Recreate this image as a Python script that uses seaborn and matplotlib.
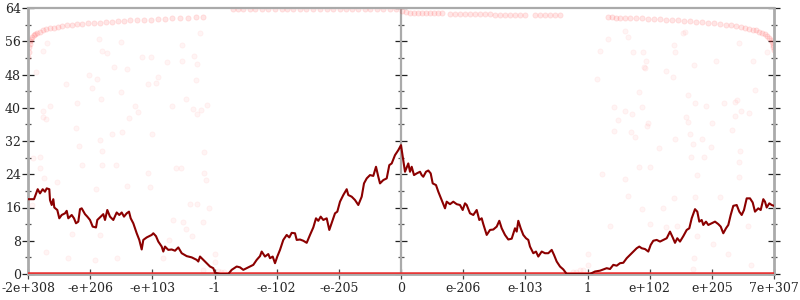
import numpy as np
import pandas as pd
import matplotlib
matplotlib.use("Agg")
import matplotlib.pyplot as plt
from matplotlib.ticker import MultipleLocator, NullFormatter
import seaborn as sns

# x is an ordinal "rank" axis (0 .. 746) over the float number line
tick_labels = ["-2e+308", "-e+206", "-e+103", "-1", "-e-102", "-e-205", "0",
               "e-206", "e-103", "1", "e+102", "e+205", "7e+307"]
x_span = 746

# average error line (rank, bits)
error_line = [
    (0, 18.0), (6, 18.0), (9.7, 20.4), (12, 19.4), (14.7, 20.4), (17, 19.8), (18.7, 20.6),
    (21.3, 20.4), (22, 17.8), (23.7, 16.6), (25.3, 18.0), (26.3, 16.0), (29.3, 15.4),
    (31.3, 13.4), (33.7, 14.2), (37, 14.6), (38.7, 15.2), (40.3, 13.4), (43.7, 14.2),
    (46, 13.4), (48, 12.2), (50.3, 12.6), (52, 15.6), (53.7, 15.8), (57, 14.4), (59.3, 13.8),
    (62, 13.0), (64.7, 11.4), (68, 11.2), (69.3, 13.0), (72.7, 13.8), (75.3, 14.4), (77, 13.0),
    (79.3, 15.4), (82, 13.8), (85.3, 13.0), (88.7, 14.8), (91.3, 14.2), (93.7, 14.8),
    (96, 13.8), (98.7, 14.6), (101, 15.0), (102.7, 13.4), (105.3, 12.2), (108.7, 9.8),
    (111.3, 8.2), (113.7, 5.9), (115.3, 8.2), (118.7, 8.8), (121.3, 9.1), (123.7, 9.4),
    (125.3, 9.8), (128, 9.1), (130.3, 7.8), (133.7, 6.6), (135.3, 5.4), (137, 6.6),
    (140.3, 5.8), (143.7, 5.9), (147, 5.6), (150.3, 6.4), (153.7, 5.0), (158.7, 4.3),
    (163.7, 4.0), (168.7, 3.4), (170.3, 3.0), (172, 4.2), (177, 3.0), (182, 1.8),
    (185.3, 1.4), (187, 0.3), (192, 0.0), (200.3, 0.0), (203.7, 1.0), (208.7, 1.8),
    (212, 1.6), (215.3, 1.0), (218.7, 1.4), (222, 1.8), (225.3, 2.2), (228.7, 3.4),
    (232, 4.3), (233.7, 5.4), (237, 4.2), (240.3, 4.8), (242, 3.8), (244.7, 4.2),
    (247, 2.6), (249.3, 4.2), (252, 5.8), (255.3, 8.2), (258.7, 9.4), (261.3, 8.8),
    (263.7, 9.9), (267, 9.8), (268.7, 8.2), (272, 8.3), (275.3, 8.0), (278.7, 7.5),
    (282, 9.4), (285.3, 11.2), (288, 13.4), (290.3, 12.8), (292.7, 13.8), (295.3, 13.0),
    (298.7, 13.4), (301.3, 10.6), (303.7, 12.3), (307, 14.6), (309.3, 15.0), (312, 17.4),
    (315.3, 19.0), (318.7, 20.4), (320.3, 19.0), (323.7, 18.6), (327, 17.8), (330.3, 16.6),
    (333.7, 18.6), (336, 21.8), (338.7, 23.0), (342, 23.8), (345.3, 23.6), (348, 25.8),
    (350.3, 23.4), (352, 21.8), (355.3, 22.6), (358.7, 23.0), (361.3, 26.2), (363.7, 26.6),
    (367, 28.6), (370.3, 29.8), (373, 31.0), (375.3, 27.4), (377, 24.6), (380.3, 26.6),
    (382, 24.6), (383.7, 25.8), (386, 23.8), (388.7, 24.2), (392, 24.6), (393.7, 23.8),
    (395.3, 23.4), (398, 24.6), (400.3, 24.9), (402.7, 24.2), (404.7, 21.8), (408, 21.4),
    (410.3, 19.8), (413.7, 17.8), (417, 15.8), (418.7, 17.4), (422, 16.8), (425.3, 17.4),
    (428.7, 16.8), (432, 16.6), (434.7, 15.4), (437, 17.0), (438.7, 16.6), (442, 14.6),
    (445.3, 14.2), (448.7, 15.4), (451.3, 13.0), (453.7, 13.4), (455.3, 12.0), (458.7, 9.4),
    (462, 10.6), (465.3, 10.7), (468.7, 11.4), (471.3, 12.8), (473.7, 11.0), (477, 9.4),
    (480.3, 8.3), (483.7, 8.5), (487, 11.0), (488.7, 10.2), (490.3, 12.8), (492.7, 11.0),
    (495.3, 9.4), (498, 8.6), (500.3, 8.2), (502, 6.6), (505.3, 5.0), (508, 5.4),
    (510.3, 4.2), (513.7, 5.4), (517, 5.0), (520.3, 5.0), (523.7, 5.8), (526, 4.6),
    (528.7, 3.0), (532, 1.8), (535.3, 1.1), (538.7, 0.0), (562, 0.0), (567, 0.6),
    (572, 0.8), (578.7, 1.4), (582, 1.2), (585.3, 2.2), (588.7, 2.0), (592, 2.6),
    (595.3, 2.7), (598.7, 3.8), (602, 4.6), (605.3, 5.4), (608.7, 6.2), (611.3, 6.6),
    (613.7, 6.2), (617, 6.0), (620.3, 5.4), (622.7, 7.0), (625.3, 8.0), (628.7, 8.2),
    (632, 7.8), (635.3, 8.2), (638.7, 8.6), (642, 10.2), (644.7, 8.8), (647, 7.5),
    (649.3, 8.6), (652, 7.8), (655.3, 9.1), (658.7, 10.6), (661.3, 11.0), (663.7, 13.4),
    (667, 15.6), (669.3, 15.0), (671.3, 12.6), (673.7, 13.0), (675.3, 11.8), (678, 12.6),
    (680.3, 11.8), (683.7, 12.2), (687, 12.6), (690.3, 12.0), (692.7, 11.4), (695.3, 9.8),
    (698, 11.0), (700.3, 11.8), (702.7, 14.2), (705.3, 16.4), (708.7, 16.6), (711.3, 15.0),
    (713.7, 14.2), (716, 15.4), (718.7, 18.2), (722, 18.2), (724.7, 17.2), (727, 15.0),
    (730.3, 15.8), (732.7, 15.4), (735.3, 18.0), (737, 17.4), (738.7, 16.0), (741.3, 17.0),
    (743.7, 16.6), (746, 16.4),
]

# dense band of sampled points near the top (rank, bits)
top_band = [
    (0, 52.3), (0.5, 53.5), (1, 54.5), (1.5, 55.3), (2, 56.0), (3, 56.6), (4, 57.1),
    (5.5, 57.5), (7, 57.8), (9, 58.1), (12, 58.3), (15, 58.6), (18, 58.9), (22, 59.1),
    (26, 59.3), (30, 59.5), (34, 59.7), (39, 59.9), (44, 60.0), (49, 60.1), (54, 60.2),
    (60, 60.3), (66, 60.4), (72, 60.5), (78, 60.6), (84, 60.7), (90, 60.8), (96, 60.9),
    (102, 61.0), (109, 61.1), (116, 61.2), (123, 61.2), (130, 61.3), (137, 61.4),
    (144, 61.5), (152, 61.6), (160, 61.7), (168, 61.8), (175, 61.9),
    (205, 63.7), (210, 63.7), (215, 63.7), (222, 63.7), (227, 63.7), (234, 63.7),
    (240, 63.7), (247, 63.7), (254, 63.7), (259, 63.7), (265, 63.7), (272, 63.7),
    (278, 63.7), (285, 63.7), (292, 63.7), (299, 63.7), (305, 63.7), (312, 63.7),
    (318, 63.7), (324, 63.7), (330, 63.7), (337, 63.7), (342, 63.7), (349, 63.7),
    (355, 63.7), (362, 63.7), (368, 63.7),
    (374, 63.3), (378, 63.0), (382, 62.9), (386, 62.9), (390, 62.9), (394, 62.9),
    (398, 62.9), (402, 62.9), (406, 62.9), (410, 62.9), (414, 62.9), (422, 62.6),
    (427, 62.6), (432, 62.6), (437, 62.6), (442, 62.6), (447, 62.6), (452, 62.6),
    (457, 62.6), (462, 62.6), (467, 62.4), (472, 62.4), (477, 62.4), (482, 62.4),
    (487, 62.4), (492, 62.4), (497, 62.4), (507, 62.2), (512, 62.2), (517, 62.2),
    (522, 62.2), (527, 62.2), (532, 62.2),
    (580, 61.8), (584, 61.8), (588, 61.7), (592, 61.7), (597, 61.6), (602, 61.6),
    (608, 61.5), (614, 61.5), (620, 61.4), (626, 61.3), (632, 61.3), (638, 61.2),
    (644, 61.1), (650, 61.0), (656, 60.9), (662, 60.8), (668, 60.7), (674, 60.6),
    (680, 60.4), (686, 60.3), (692, 60.1), (698, 60.0), (703, 59.8), (708, 59.6),
    (713, 59.4), (717, 59.2), (721, 59.0), (725, 58.8), (728, 58.6), (731, 58.3),
    (734, 58.0), (736.5, 57.7), (739, 57.3), (741, 56.8), (742.5, 56.3), (743.5, 55.8),
    (744.5, 55.2), (745, 54.6), (745.5, 54.0),
]

# sparse individual samples (rank, bits)
sparse_points = [
    (71.3, 56.5), (93.3, 55.8), (18.7, 55.5), (154.3, 55.2), (172, 58.1), (14.7, 53.7),
    (73.7, 53.6), (79, 53.1), (114.3, 52.3), (122.7, 52.1), (166, 52.4), (154.3, 51.3),
    (138.7, 50.9), (169.3, 50.5), (86.3, 49.9), (99, 49.3), (8, 48.5), (61, 48.0),
    (68.7, 46.8), (130, 47.4), (127.7, 46.0), (120, 45.6), (168.3, 46.7), (38.3, 45.6),
    (63.7, 44.8), (93, 43.7), (73, 42.1), (158, 42.2), (49, 41.1), (22, 40.4),
    (106.7, 40.4), (143.7, 40.4), (179, 40.7), (164.7, 39.8), (173.3, 39.5), (14.7, 39.2),
    (109.7, 38.9), (169, 38.4), (14.7, 37.7), (18, 37.4), (101, 37.6), (48.3, 35.1),
    (83.7, 33.7), (94.3, 34.1), (124, 33.8), (72, 32.3), (51.3, 30.9), (74.3, 29.7),
    (175.7, 29.3), (12, 28.2), (5.3, 27.8), (12, 25.6), (53.7, 26.2), (73.7, 26.2),
    (87.7, 26.2), (148, 25.6), (153, 25.6), (176.3, 24.2), (16, 23.0), (28.7, 22.2),
    (119.7, 24.2), (177.7, 22.6), (99.3, 21.2), (122, 21.0), (68, 20.4), (162, 16.8),
    (168.7, 16.8), (181.3, 16.0), (3.7, 16.6), (145.3, 13.0), (155.3, 12.6), (175.3, 12.4),
    (43.7, 9.6), (72, 9.4), (163.7, 9.1), (141.3, 8.3), (158, 10.8), (18, 5.2),
    (40.3, 3.8), (67, 3.4), (88.7, 3.8), (134.7, 3.8), (187, 4.7), (187, 3.0),
    (174.7, 1.0), (190, 0.8), (193, 0.6), (196, 0.5),
    (597, 58.5), (599.7, 57.1), (579.7, 56.5), (657, 58.3), (654.7, 57.9), (711.3, 55.5),
    (646.3, 55.2), (572, 53.7), (605.3, 53.4), (615.3, 53.4), (647, 53.4), (738.7, 53.4),
    (617.7, 51.3), (687.7, 51.3), (724.7, 51.3), (666, 50.2), (616, 49.9), (617, 49.5),
    (638, 48.8), (645.3, 47.3), (568.7, 46.9), (727, 44.3), (610.7, 43.8), (660, 43.1),
    (666.7, 41.2), (678, 40.5), (696, 41.1), (707, 41.4), (709.3, 41.9), (586.3, 40.3),
    (613.7, 40.3), (597, 39.2), (604.3, 38.6), (712.7, 39.2), (721.3, 38.7), (707, 38.1),
    (589.7, 37.1), (658, 37.7), (659.7, 36.5), (684, 36.3), (620.3, 36.3), (618.7, 35.7),
    (586.3, 34.5), (602.7, 34.2), (703.7, 34.7), (606.7, 33.0), (662, 33.7), (674.3, 32.6),
    (647.3, 32.4), (665.3, 31.3), (631.3, 30.4), (682.7, 30.5), (712, 29.7), (663, 28.2),
    (676.3, 28.2), (711.3, 26.9), (611.3, 25.8), (622, 25.8), (573.7, 24.0), (597, 22.8),
    (668.7, 23.8), (711.3, 23.4), (600.3, 18.8), (646, 18.4), (667, 18.6), (692, 18.5),
    (613.7, 15.6), (634.7, 16.0), (582, 11.5), (622, 12.0), (637.7, 11.4), (649.3, 11.6),
    (719.7, 11.6), (668.7, 9.1), (685.3, 7.2), (700.3, 4.8), (559.7, 4.7), (559.7, 2.2),
    (666.3, 3.8), (723, 2.2), (664.7, 1.2), (552, 1.0), (555, 1.0), (548, 0.6), (545, 0.5),
]

zero_error = 0.0  # the many samples with no error

line_df = pd.DataFrame(error_line, columns=["rank", "bits"])
band_df = pd.DataFrame(top_band, columns=["rank", "bits"])
sparse_df = pd.DataFrame(sparse_points, columns=["rank", "bits"])

sns.set_style("white")
plt.rcParams["font.family"] = ["DejaVu Serif"]
plt.rcParams["font.size"] = 9

fig = plt.figure(figsize=(8, 3), dpi=100)
ax = fig.add_axes([28 / 800, 1 - 274 / 300, 746 / 800, 266 / 300])

sns.scatterplot(data=band_df, x="rank", y="bits", ax=ax, color="#ff3030",
                alpha=0.12, s=14, edgecolor="#ff3030", linewidth=0.6, zorder=2)
sns.scatterplot(data=sparse_df, x="rank", y="bits", ax=ax, color="#ff3030",
                alpha=0.05, s=14, edgecolor="#ff3030", linewidth=0.6, zorder=2)
ax.axhline(zero_error, color="#e83030", lw=2.6, alpha=0.95, zorder=3)
sns.lineplot(data=line_df, x="rank", y="bits", ax=ax, color="#8b0000",
             lw=1.5, zorder=4, estimator=None, sort=False)

tick_pos = np.linspace(0, x_span, len(tick_labels))
ax.axvline(tick_pos[6], color="#aaaaaa", lw=1.6, zorder=1)

ax.set_xlim(0, x_span)
ax.set_ylim(0, 64)
ax.set_xticks(tick_pos)
ax.set_xticklabels(tick_labels)
ax.yaxis.set_major_locator(MultipleLocator(8))
ax.yaxis.set_minor_locator(MultipleLocator(4))
ax.set_xlabel("")
ax.set_ylabel("")

for side in ["left", "right", "top", "bottom"]:
    ax.spines[side].set_color("#aaaaaa")
    ax.spines[side].set_linewidth(2.0)
ax.spines["top"].set_linewidth(1.6)

ax.tick_params(axis="y", which="major", direction="inout", length=8, width=0.9,
               color="#222222", left=True, right=True, labelright=False, pad=1,
               labelsize=9)
ax.tick_params(axis="y", which="minor", direction="inout", length=4, width=0.9,
               color="#555555", left=True, right=True)
ax.tick_params(axis="x", which="major", direction="inout", length=7, width=0.9,
               color="#444444", bottom=True, pad=2.5, labelsize=9)

mid = ax.secondary_yaxis(0.5)
mid.yaxis.set_major_locator(MultipleLocator(8))
mid.yaxis.set_minor_locator(MultipleLocator(4))
mid.yaxis.set_major_formatter(NullFormatter())
mid.yaxis.set_minor_formatter(NullFormatter())
for s in mid.spines.values():
    s.set_visible(False)
mid.tick_params(axis="y", which="major", direction="inout", length=8, width=0.9,
                color="#222222", labelleft=False, labelright=False)
mid.tick_params(axis="y", which="minor", direction="inout", length=4, width=0.9,
                color="#555555")

fig.savefig("out.png", dpi=100)
